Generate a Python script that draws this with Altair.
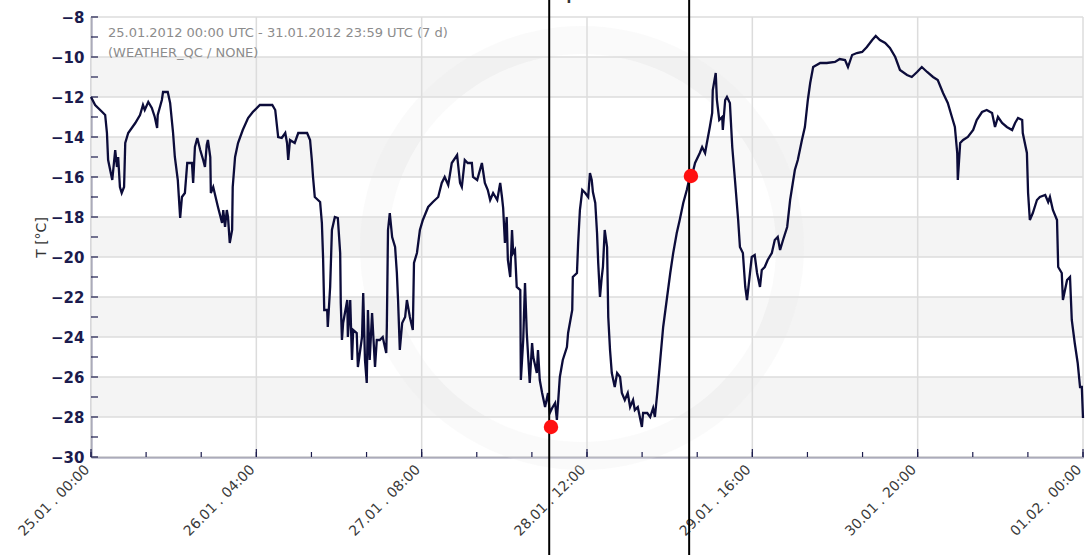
import json
import altair as alt
import pandas as pd

# ---- temperature record, 25.01.2012 00:00 UTC onwards (hours since start, °C)
hours = [
    0.0, 0.7, 1.9, 2.4, 2.7, 2.9, 3.6, 4.1, 4.4, 4.6, 4.9, 5.2, 5.6, 5.8, 6.3, 7.5,
    8.3, 8.8, 9.1, 9.7, 10.3, 10.8, 11.2, 11.3, 12.0, 12.2, 13.0, 13.4, 13.9, 14.2,
    14.7, 15.1, 15.4, 15.9, 16.3, 17.1, 17.3, 17.6, 18.0, 18.5, 19.0, 19.3, 19.6,
    19.8, 20.2, 20.3, 20.7, 21.5, 22.2, 22.4, 22.7, 23.0, 23.2, 23.5, 23.9, 24.0,
    24.4, 24.9, 25.7, 26.6, 27.4, 28.6, 30.7, 31.2, 31.7, 32.3, 32.9, 33.2, 33.4,
    33.7, 34.5, 35.1, 36.6, 37.1, 37.4, 37.6, 37.9, 38.8, 39.1, 39.3, 39.5, 40.0,
    40.1, 40.5, 40.8, 41.3, 41.8, 42.2, 42.3, 42.5, 42.7, 43.4, 43.5, 43.9, 44.2,
    44.4, 45.0, 45.2, 45.9, 46.1, 46.4, 46.7, 46.9, 47.2, 47.6, 48.1, 48.4, 48.9,
    49.4, 50.0, 50.1, 50.3, 50.6, 51.0, 51.5, 51.8, 52.0, 52.3, 52.7, 53.2, 53.5,
    54.0, 54.5, 54.7, 55.2, 55.7, 56.2, 57.1, 57.9, 58.8, 59.4, 59.9, 60.5, 61.1,
    62.0, 62.5, 62.8, 63.3, 63.8, 64.5, 64.7, 65.4, 66.2, 66.7, 67.2, 67.6, 68.1,
    68.8, 69.3, 69.6, 69.8, 70.1, 70.4, 70.6, 71.0, 71.3, 71.5, 71.8, 72.1, 72.7,
    72.8, 73.2, 73.5, 73.8, 74.3, 74.7, 74.9, 75.5, 75.7, 76.0, 76.4, 76.9, 77.4,
    77.7, 78.1, 78.6, 78.9, 79.4, 79.9, 80.6, 80.8, 81.5, 81.6, 82.3, 82.5, 82.8,
    83.2, 83.7, 84.2, 84.5, 84.8, 85.0, 85.4, 85.7, 85.9, 86.2, 86.5, 86.7, 87.0,
    87.4, 87.6, 87.9, 88.2, 88.7, 89.1, 89.6, 89.9, 90.4, 90.9, 91.3, 91.8, 92.1,
    92.6, 93.3, 93.5, 94.2, 94.7, 95.2, 95.5, 95.9, 96.4, 96.9, 97.5, 98.1, 98.6,
    99.2, 99.7, 100.3, 100.9, 101.4, 101.8, 102.3, 103.1, 103.5, 104.0, 104.3,
    104.8, 105.2, 105.3, 105.8, 106.0, 106.4, 106.9, 107.0, 107.4, 107.7, 108.2,
    108.6, 109.1, 109.6, 109.9, 110.4, 110.8, 111.1, 111.6, 111.9, 112.4, 112.8,
    113.3, 113.6, 114.1, 114.6, 115.3, 115.8, 116.3, 116.7, 117.2, 117.9, 118.4,
    119.2, 119.7, 120.4, 120.9, 121.4, 121.8, 122.3, 123.5, 124.6, 126.0, 126.8,
    127.7, 128.2, 128.9, 129.7, 130.6, 131.4, 132.3, 132.9, 133.6, 134.5, 135.3,
    136.2, 137.0, 138.2, 139.0, 139.9, 140.7, 141.6, 142.6, 143.4, 144.3, 145.1,
    145.8, 146.3, 146.7, 146.8, 147.2, 147.7, 148.5, 149.4, 150.0, 150.9, 151.7,
    152.6, 153.1, 153.6, 154.3, 155.1, 156.0, 156.5, 157.0, 157.7, 157.8, 158.5,
    158.7, 159.0, 159.5, 160.2, 160.7, 161.6, 162.1, 162.4, 162.9, 163.6, 163.8,
    164.4, 164.6, 165.3, 165.8, 166.1, 166.6, 167.1, 167.5, 167.8, 168.0,
]
temps = [
    -12.0, -12.4, -12.75, -12.9, -13.8, -15.15, -16.15, -14.65, -15.5, -15.0, -16.5,
    -16.8, -16.5, -14.3, -13.8, -13.3, -12.9, -12.4, -12.65, -12.25, -12.55, -13.0,
    -13.55, -12.9, -12.15, -11.75, -11.75, -12.3, -13.8, -15.0, -16.15, -18.05,
    -17.0, -16.8, -15.3, -15.3, -16.3, -14.5, -14.05, -14.65, -15.15, -15.5, -14.4,
    -14.15, -15.0, -16.8, -16.5, -17.5, -18.3, -17.65, -18.5, -17.65, -18.0, -19.3,
    -18.65, -16.5, -15.0, -14.3, -13.65, -13.05, -12.75, -12.4, -12.4, -12.65,
    -14.0, -14.05, -13.8, -14.3, -15.15, -14.15, -14.3, -13.8, -13.8, -14.15,
    -15.15, -16.0, -17.0, -17.25, -18.3, -20.0, -22.65, -22.65, -23.5, -21.5,
    -18.65, -18.0, -18.05, -19.8, -22.3, -24.15, -23.3, -22.15, -24.0, -22.15,
    -25.15, -23.65, -23.8, -25.5, -24.0, -21.8, -25.15, -26.3, -22.65, -25.15,
    -22.8, -25.5, -24.15, -24.15, -24.0, -24.8, -23.5, -18.65, -17.8, -19.0, -19.5,
    -20.8, -22.15, -24.65, -23.3, -23.0, -22.15, -23.0, -23.65, -20.3, -19.8,
    -18.65, -18.15, -17.5, -17.25, -17.0, -16.3, -16.0, -16.4, -15.3, -14.9, -16.3,
    -16.5, -15.15, -15.3, -15.3, -16.0, -16.15, -15.3, -16.3, -16.65, -17.15,
    -16.8, -17.15, -16.3, -17.0, -17.55, -19.3, -18.0, -20.15, -21.0, -18.65,
    -19.8, -19.65, -21.5, -21.65, -26.15, -24.15, -21.3, -23.8, -26.3, -24.3,
    -25.0, -25.8, -24.65, -26.15, -26.8, -27.5, -26.8, -27.8, -27.55, -27.3,
    -28.15, -26.0, -25.15, -24.5, -23.8, -22.65, -21.0, -20.8, -19.3, -17.65,
    -16.65, -16.8, -17.0, -15.8, -16.15, -16.75, -17.3, -18.8, -20.3, -22.0, -21.0,
    -20.5, -18.65, -19.5, -23.0, -24.65, -25.8, -26.5, -25.8, -26.0, -26.8, -27.15,
    -26.8, -27.5, -27.15, -27.65, -27.5, -28.5, -27.8, -27.8, -28.0, -27.55, -28.0,
    -26.8, -25.15, -23.5, -22.15, -20.8, -19.8, -18.8, -18.15, -17.3, -16.65,
    -16.0, -15.9, -15.3, -14.8, -14.5, -14.8, -14.3, -13.5, -12.8, -11.65, -10.8,
    -12.15, -13.15, -13.0, -13.65, -12.15, -12.0, -12.3, -14.5, -16.3, -18.15,
    -19.5, -19.8, -21.5, -22.15, -20.8, -20.0, -19.9, -20.8, -21.5, -20.65, -20.5,
    -20.15, -19.8, -19.15, -19.0, -19.65, -19.15, -18.5, -17.15, -15.65, -15.15,
    -14.15, -13.5, -12.15, -11.3, -10.5, -10.3, -10.3, -10.25, -10.1, -10.15,
    -10.5, -9.9, -9.8, -9.75, -9.5, -9.15, -8.95, -9.15, -9.3, -9.55, -10.0,
    -10.65, -10.9, -11.0, -10.75, -10.5, -10.75, -11.0, -11.15, -11.8, -12.3,
    -13.0, -13.5, -14.8, -16.15, -14.3, -14.15, -14.0, -13.65, -13.15, -12.75,
    -12.65, -12.8, -13.5, -13.0, -13.3, -13.5, -13.65, -13.3, -13.05, -13.15,
    -13.8, -14.8, -16.8, -18.15, -17.8, -17.15, -17.0, -16.9, -17.25, -17.0,
    -17.65, -18.15, -20.5, -20.8, -22.15, -21.15, -21.0, -23.15, -24.3, -25.3,
    -26.5, -26.5, -28.05,
]

# selected instants: cursor lines and highlighted readings
cursor_hours = [77.6, 101.3]
marker_hours = [77.9, 101.6]
marker_temps = [-28.5, -15.95]

# axis ticks and labels
x_label_hours = [0, 28, 56, 84, 112, 140, 168]
x_labels = ["25.01 . 00:00", "26.01 . 04:00", "27.01 . 08:00", "28.01 . 12:00",
            "29.01 . 16:00", "30.01 . 20:00", "01.02 . 00:00"]
x_minor_hours = [i * 28 / 3 for i in range(19)]
y_label_values = list(range(-30, -7, 2))
y_minor_values = list(range(-30, -7))
band_lows = [-12, -16, -20, -24, -28]
band_highs = [-10, -14, -18, -22, -26]

period_text = "25.01.2012 00:00 UTC - 31.01.2012 23:59 UTC (7 d)"
source_text = "(WEATHER_QC / NONE)"
chart_title = "Temperature"

W, H = 992, 440
NAVY = "#1b1b4d"
LINE = "#0c0c3a"

xs = alt.Scale(domain=[0, 168], nice=False, zero=False)
ys = alt.Scale(domain=[-30, -8], nice=False, zero=False)

series = pd.DataFrame({"h": hours, "t": temps})
bands = pd.DataFrame({"lo": band_lows, "hi": band_highs})
ygrid = pd.DataFrame({"t": y_label_values})
xgrid = pd.DataFrame({"h": x_label_hours})
yminor = pd.DataFrame({"t": y_minor_values})
xminor = pd.DataFrame({"h": x_minor_hours})
cursors = pd.DataFrame({"h": cursor_hours})
markers = pd.DataFrame({"h": marker_hours, "t": marker_temps})
one_row = pd.DataFrame({"period": [period_text], "source": [source_text],
                        "title": [chart_title]})

label_expr = json.dumps(x_labels) + "[round(datum.value / 28)]"

# encodings for the decoration layers (they draw no axes of their own)
hx = alt.X("h:Q", scale=xs, axis=None)
ty = alt.Y("t:Q", scale=ys, axis=None)

base_x = alt.X("h:Q", scale=xs, axis=alt.Axis(
    values=x_label_hours, labelExpr=label_expr, title=None,
    ticks=False, grid=False, domainColor=NAVY, domainWidth=1.5,
    labelAngle=315, labelAlign="right", labelBaseline="middle",
    labelPadding=10, labelOffset=-4, labelFlush=False, labelOverlap=False,
    labelBound=False, labelFont="DejaVu Sans", labelFontSize=14,
    labelColor="#3a3a3a"))
base_y = alt.Y("t:Q", scale=ys, axis=alt.Axis(
    values=y_label_values, title="T [°C]", ticks=False, grid=False,
    domainColor=NAVY, domainWidth=1.5, labelPadding=7,
    labelOverlap=False, labelFlush=False, labelBound=False,
    labelFont="DejaVu Sans", labelFontWeight="bold", labelFontSize=15,
    labelColor=NAVY, titleFont="DejaVu Sans", titleFontWeight="normal",
    titleFontSize=14, titleColor="#333333", titlePadding=2))

band_layer = alt.Chart(bands).mark_rect(color="#f4f4f4").encode(
    y=alt.Y("lo:Q", scale=ys, axis=None), y2="hi:Q",
    x=alt.value(0), x2=alt.value(W))

# faint round emblem behind the curve
ring = alt.Chart(one_row).mark_arc(
    theta=0, theta2=6.2832, radius=222, radius2=194, color="#e6e6e6", opacity=0.22
).encode(x=alt.value(491), y=alt.value(231))
disc = alt.Chart(one_row).mark_arc(
    theta=0, theta2=6.2832, radius=194, radius2=0, color="#ffffff", opacity=0.4
).encode(x=alt.value(491), y=alt.value(231))

hgrid = alt.Chart(ygrid).mark_rule(color="#dcdcdc", strokeWidth=1.5).encode(
    y=ty, x=alt.value(0), x2=alt.value(W))
vgrid = alt.Chart(xgrid).mark_rule(color="#dcdcdc", strokeWidth=1.5).encode(
    x=hx, y=alt.value(0), y2=alt.value(H))

yticks = alt.Chart(yminor).mark_rule(color=NAVY, strokeWidth=1.2).encode(
    y=ty, x=alt.value(0), x2=alt.value(7))
xticks_minor = alt.Chart(xminor).mark_rule(color=NAVY, strokeWidth=1.2).encode(
    x=hx, y=alt.value(H - 5), y2=alt.value(H))
xticks_major = alt.Chart(xgrid).mark_rule(color=NAVY, strokeWidth=1.2).encode(
    x=hx, y=alt.value(H - 8), y2=alt.value(H))

curve = alt.Chart(series).mark_line(color=LINE, strokeWidth=2.3, strokeJoin="miter").encode(
    x=base_x, y=base_y)

cursor_rules = alt.Chart(cursors).mark_rule(color="#000000", strokeWidth=2).encode(
    x=hx, y=alt.value(-17), y2=alt.value(H + 98))

marker_dots = alt.Chart(markers).mark_circle(color="#ff1010", opacity=1, size=210).encode(
    x=hx, y=ty)

info_style = dict(align="left", baseline="alphabetic", font="DejaVu Sans",
                  fontSize=13, color="#8c8c8c")
period_label = alt.Chart(one_row).mark_text(**info_style).encode(
    x=alt.value(17), y=alt.value(20), text="period:N")
source_label = alt.Chart(one_row).mark_text(**info_style).encode(
    x=alt.value(17), y=alt.value(40), text="source:N")

title_text = alt.Chart(one_row).mark_text(
    align="center", baseline="alphabetic", font="DejaVu Sans", fontWeight="bold",
    fontSize=14, color="#333333"
).encode(x=alt.value(W / 2 - 2), y=alt.value(-17.5), text="title:N")

chart = alt.layer(
    band_layer, ring, disc, hgrid, vgrid, curve, yticks, xticks_minor, xticks_major,
    period_label, source_label, cursor_rules, marker_dots, title_text
).resolve_axis(x="independent", y="independent").properties(
    width=W, height=H,
    autosize=alt.AutoSizeParams(type="none"),
    padding={"left": 91, "top": 17, "right": 3, "bottom": 98},
    background="#ffffff",
).configure_view(strokeWidth=0)

chart.save("out.html", embed_options={"renderer": "svg", "actions": False})
